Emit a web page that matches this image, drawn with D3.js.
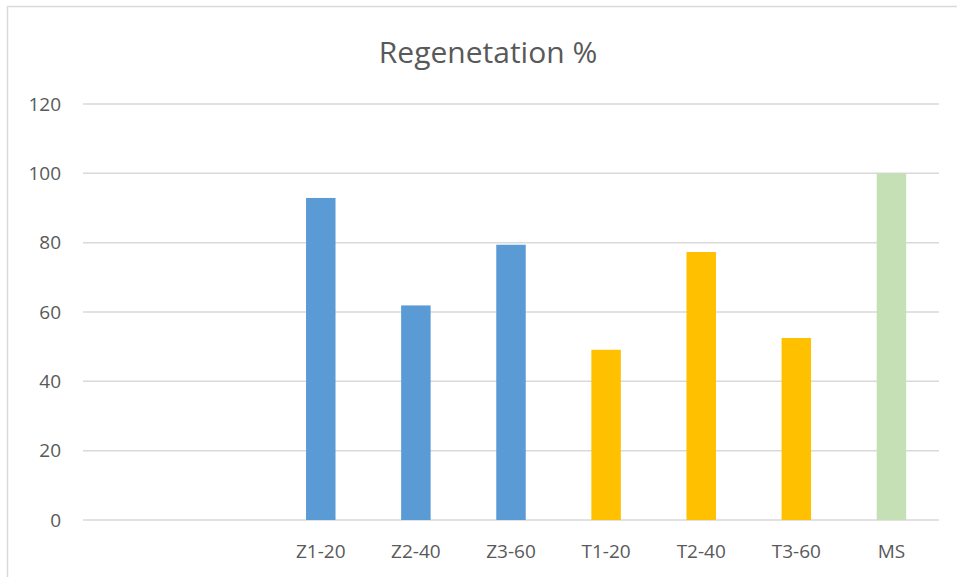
<!DOCTYPE html>
<html>
<head>
<meta charset="utf-8">
<script src="https://cdn.jsdelivr.net/npm/d3@7"></script>
<style>
  body { margin: 0; background: #fff; }
  text { font-family: "Open Sans", "Liberation Sans", sans-serif; fill: #595959; }
</style>
</head>
<body>
<svg width="957" height="577"></svg>
<script>
// chart data (first two slots are empty in the original)
const categories = ["", "", "Z1-20", "Z2-40", "Z3-60", "T1-20", "T2-40", "T3-60", "MS"];
const values = [null, null, 92.9, 61.9, 79.4, 49.1, 77.3, 52.5, 100];
const barColors = [null, null, "#5B9BD5", "#5B9BD5", "#5B9BD5", "#FFC000", "#FFC000", "#FFC000", "#C5E0B4"];
const yTicks = [0, 20, 40, 60, 80, 100, 120];

const svg = d3.select("svg");
const plotLeft = 83, plotRight = 939, plotTop = 104, plotBottom = 520;

// chart frame (cropped on right/bottom in the reference)
svg.append("path")
    .attr("d", "M7.5,580 V6.5 H960")
    .attr("fill", "none")
    .attr("stroke", "#D9D9D9")
    .attr("stroke-width", 1.5);

svg.append("text")
    .attr("x", 488)
    .attr("y", 63)
    .attr("text-anchor", "middle")
    .attr("font-size", 30)
    .text("Regenetation %");

const x = d3.scaleBand()
    .domain(d3.range(categories.length))
    .range([plotLeft, plotRight])
    .paddingInner(0.69)
    .paddingOuter(0.345);

const y = d3.scaleLinear().domain([0, 120]).range([plotBottom, plotTop]);

// gridlines
svg.append("g")
    .selectAll("line")
    .data(yTicks)
    .enter()
    .append("line")
    .attr("x1", plotLeft)
    .attr("x2", plotRight)
    .attr("y1", d => y(d))
    .attr("y2", d => y(d))
    .attr("stroke", "#D9D9D9")
    .attr("stroke-width", 1.5);

// y tick labels
svg.append("g")
    .selectAll("text")
    .data(yTicks)
    .enter()
    .append("text")
    .attr("x", 61)
    .attr("y", d => y(d))
    .attr("dy", "0.35em")
    .attr("text-anchor", "end")
    .attr("font-size", 19)
    .text(d => d);

// bars
const idx = d3.range(categories.length).filter(i => values[i] != null);
svg.append("g")
    .selectAll("rect")
    .data(idx)
    .enter()
    .append("rect")
    .attr("x", i => x(i))
    .attr("width", x.bandwidth())
    .attr("y", i => y(values[i]))
    .attr("height", i => y(0) - y(values[i]))
    .attr("fill", i => barColors[i]);

// x labels
svg.append("g")
    .selectAll("text")
    .data(d3.range(categories.length))
    .enter()
    .append("text")
    .attr("x", i => x(i) + x.bandwidth() / 2)
    .attr("y", 551)
    .attr("dy", "0.35em")
    .attr("text-anchor", "middle")
    .attr("font-size", 19)
    .text(i => categories[i]);
</script>
</body>
</html>
